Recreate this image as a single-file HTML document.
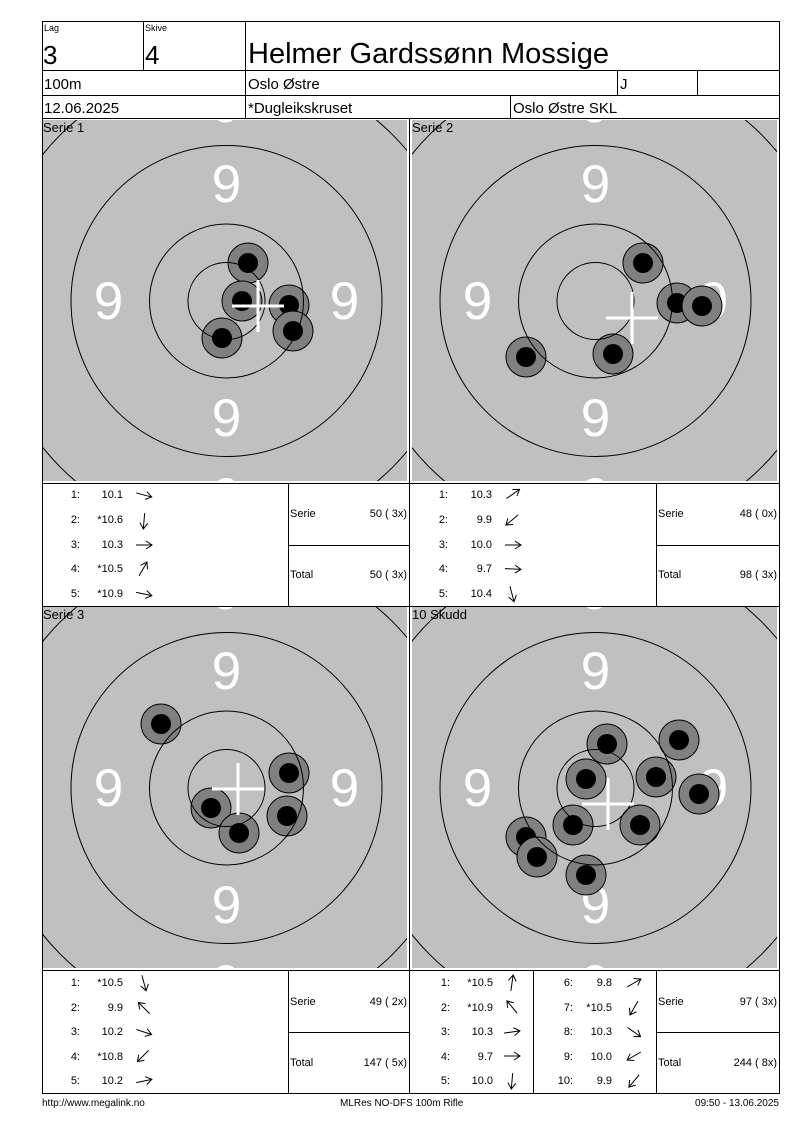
<!DOCTYPE html>
<html><head><meta charset="utf-8"><style>
html,body{margin:0;padding:0;background:#fff;}
svg{display:block;font-family:"Liberation Sans",sans-serif;}
</style></head><body>
<svg width="800" height="1130" viewBox="0 0 800 1130" xmlns="http://www.w3.org/2000/svg">
<defs>
<path id="ar" d="M-8 0H8M2 -4L8 0L2 4" fill="none" stroke="#000" stroke-width="1"/>
<g id="back">
<rect x="0" y="0" width="366" height="362" fill="#c0c0c0"/>
<circle cx="183.5" cy="181" r="235" fill="none" stroke="#000" stroke-width="1"/>
<g fill="#fff" font-size="53" text-anchor="middle">
<text x="183.5" y="2">9</text>
<text x="183.5" y="82">9</text>
<text x="65.5" y="199">9</text>
<text x="301.5" y="199">9</text>
<text x="183.5" y="316">9</text>
<text x="183.5" y="395">9</text>
</g>
</g>
<g id="rings" fill="none" stroke="#000" stroke-width="1">
<circle cx="183.5" cy="181" r="155.5"/>
<circle cx="183.5" cy="181" r="77"/>
<circle cx="183.5" cy="181" r="38.5"/>
</g>
<g id="shot"><circle r="20" fill="#808080" stroke="#000" stroke-width="1"/><circle r="10" fill="#000"/></g>
<g id="cross" stroke="#fff" stroke-width="3"><path d="M-26 0H26M0 -26V26"/></g>
</defs>

<!-- header -->
<g fill="none" stroke="#000" stroke-width="1">
<rect x="42.5" y="21.5" width="737" height="1072"/>
<path d="M42 70.5H780M42 95.5H780M42 118.5H780M143.5 21V70M245.5 21V118M617.5 70V95M697.5 70V95M510.5 95V118"/>
</g>
<g font-size="9"><text x="44" y="31">Lag</text><text x="145" y="31">Skive</text></g>
<g font-size="26"><text x="43" y="64">3</text><text x="145" y="64">4</text></g>
<text x="248" y="63" font-size="29">Helmer Gardssønn Mossige</text>
<g font-size="15">
<text x="44" y="89">100m</text><text x="248" y="89">Oslo Østre</text><text x="620" y="89">J</text>
<text x="44" y="113">12.06.2025</text><text x="248" y="113">*Dugleikskruset</text><text x="513" y="113">Oslo Østre SKL</text>
</g>

<!-- panels -->
<svg x="43" y="120" width="364" height="361" overflow="hidden">
<use href="#back"/>
<use href="#shot" x="205" y="143"/><use href="#shot" x="199" y="181"/><use href="#shot" x="246" y="185"/><use href="#shot" x="250" y="211"/><use href="#shot" x="179" y="218"/>
<use href="#rings"/><use href="#cross" x="215" y="186"/>
<text x="0" y="12" font-size="13">Serie 1</text>
</svg>
<svg x="412" y="120" width="365" height="361" overflow="hidden">
<use href="#back"/>
<use href="#shot" x="231" y="143"/><use href="#shot" x="265" y="183"/><use href="#shot" x="290" y="186"/><use href="#shot" x="201" y="234"/><use href="#shot" x="114" y="237"/>
<use href="#rings"/><use href="#cross" x="220" y="198"/>
<text x="0" y="12" font-size="13">Serie 2</text>
</svg>
<svg x="43" y="607" width="364" height="361" overflow="hidden">
<use href="#back"/>
<use href="#shot" x="118" y="117"/><use href="#shot" x="246" y="166"/><use href="#shot" x="168" y="201"/><use href="#shot" x="244" y="209"/><use href="#shot" x="196" y="226"/>
<use href="#rings"/><use href="#cross" x="195" y="182"/>
<text x="0" y="12" font-size="13">Serie 3</text>
</svg>
<svg x="412" y="607" width="365" height="361" overflow="hidden">
<use href="#back"/>
<use href="#shot" x="195" y="137"/><use href="#shot" x="267" y="133"/><use href="#shot" x="174" y="172"/><use href="#shot" x="244" y="170"/><use href="#shot" x="287" y="187"/><use href="#shot" x="161" y="218"/><use href="#shot" x="228" y="218"/><use href="#shot" x="114" y="230"/><use href="#shot" x="125" y="250"/><use href="#shot" x="174" y="268"/>
<use href="#rings"/><use href="#cross" x="196" y="197"/>
<text x="0" y="12" font-size="13">10 Skudd</text>
</svg>

<!-- grid lines -->
<g fill="none" stroke="#000" stroke-width="1">
<path d="M409.5 118V1093M42 483.5H780M42 606.5H780M42 970.5H780M288.5 483V606M656.5 483V606M288.5 970V1093M656.5 970V1093M533.5 970V1093M288 545.5H410M656 545.5H780M288 1032.5H410M656 1032.5H780"/>
</g>

<!-- results -->
<g font-size="11">
<g text-anchor="end">
<text x="80" y="498">1:</text><text x="123" y="498">10.1</text>
<text x="80" y="523">2:</text><text x="123" y="523">*10.6</text>
<text x="80" y="548">3:</text><text x="123" y="548">10.3</text>
<text x="80" y="572">4:</text><text x="123" y="572">*10.5</text>
<text x="80" y="597">5:</text><text x="123" y="597">*10.9</text>
<text x="448" y="498">1:</text><text x="492" y="498">10.3</text>
<text x="448" y="523">2:</text><text x="492" y="523">9.9</text>
<text x="448" y="548">3:</text><text x="492" y="548">10.0</text>
<text x="448" y="572">4:</text><text x="492" y="572">9.7</text>
<text x="448" y="597">5:</text><text x="492" y="597">10.4</text>
<text x="407" y="517">50 ( 3x)</text><text x="407" y="578">50 ( 3x)</text>
<text x="777" y="517">48 ( 0x)</text><text x="777" y="578">98 ( 3x)</text>

<text x="80" y="986">1:</text><text x="123" y="986">*10.5</text>
<text x="80" y="1011">2:</text><text x="123" y="1011">9.9</text>
<text x="80" y="1035">3:</text><text x="123" y="1035">10.2</text>
<text x="80" y="1060">4:</text><text x="123" y="1060">*10.8</text>
<text x="80" y="1084">5:</text><text x="123" y="1084">10.2</text>
<text x="450" y="986">1:</text><text x="493" y="986">*10.5</text>
<text x="450" y="1011">2:</text><text x="493" y="1011">*10.9</text>
<text x="450" y="1035">3:</text><text x="493" y="1035">10.3</text>
<text x="450" y="1060">4:</text><text x="493" y="1060">9.7</text>
<text x="450" y="1084">5:</text><text x="493" y="1084">10.0</text>
<text x="573" y="986">6:</text><text x="612" y="986">9.8</text>
<text x="573" y="1011">7:</text><text x="612" y="1011">*10.5</text>
<text x="573" y="1035">8:</text><text x="612" y="1035">10.3</text>
<text x="573" y="1060">9:</text><text x="612" y="1060">10.0</text>
<text x="573" y="1084">10:</text><text x="612" y="1084">9.9</text>
<text x="407" y="1005">49 ( 2x)</text><text x="407" y="1066">147 ( 5x)</text>
<text x="777" y="1005">97 ( 3x)</text><text x="777" y="1066">244 ( 8x)</text>
</g>
<text x="290" y="517">Serie</text><text x="290" y="578">Total</text>
<text x="658" y="517">Serie</text><text x="658" y="578">Total</text>
<text x="290" y="1005">Serie</text><text x="290" y="1066">Total</text>
<text x="658" y="1005">Serie</text><text x="658" y="1066">Total</text>
</g>

<!-- arrows -->
<use href="#ar" transform="translate(144,495) rotate(15)"/>
<use href="#ar" transform="translate(144,521) rotate(95)"/>
<use href="#ar" transform="translate(144,545) rotate(0)"/>
<use href="#ar" transform="translate(143,569) rotate(-60)"/>
<use href="#ar" transform="translate(144,594) rotate(12)"/>

<use href="#ar" transform="translate(513,494) rotate(-35)"/>
<use href="#ar" transform="translate(512,520) rotate(140)"/>
<use href="#ar" transform="translate(513,545) rotate(0)"/>
<use href="#ar" transform="translate(513,569) rotate(3)"/>
<use href="#ar" transform="translate(512,594) rotate(75)"/>

<use href="#ar" transform="translate(144,983) rotate(75)"/>
<use href="#ar" transform="translate(144,1008) rotate(-135)"/>
<use href="#ar" transform="translate(144,1032) rotate(18)"/>
<use href="#ar" transform="translate(143,1056) rotate(135)"/>
<use href="#ar" transform="translate(144,1081) rotate(-12)"/>

<use href="#ar" transform="translate(512,983) rotate(-82)"/>
<use href="#ar" transform="translate(512,1007) rotate(-130)"/>
<use href="#ar" transform="translate(512,1032) rotate(-8)"/>
<use href="#ar" transform="translate(512,1056) rotate(0)"/>
<use href="#ar" transform="translate(512,1081) rotate(95)"/>
<use href="#ar" transform="translate(634,983) rotate(-30)"/>
<use href="#ar" transform="translate(634,1008) rotate(120)"/>
<use href="#ar" transform="translate(634,1032) rotate(35)"/>
<use href="#ar" transform="translate(634,1056) rotate(150)"/>
<use href="#ar" transform="translate(634,1081) rotate(130)"/>

<!-- footer -->
<g font-size="10">
<text x="42" y="1106">http://www.megalink.no</text>
<text x="340" y="1106">MLRes NO-DFS 100m Rifle</text>
<text x="779" y="1106" text-anchor="end">09:50 - 13.06.2025</text>
</g>
</svg>
</body></html>
